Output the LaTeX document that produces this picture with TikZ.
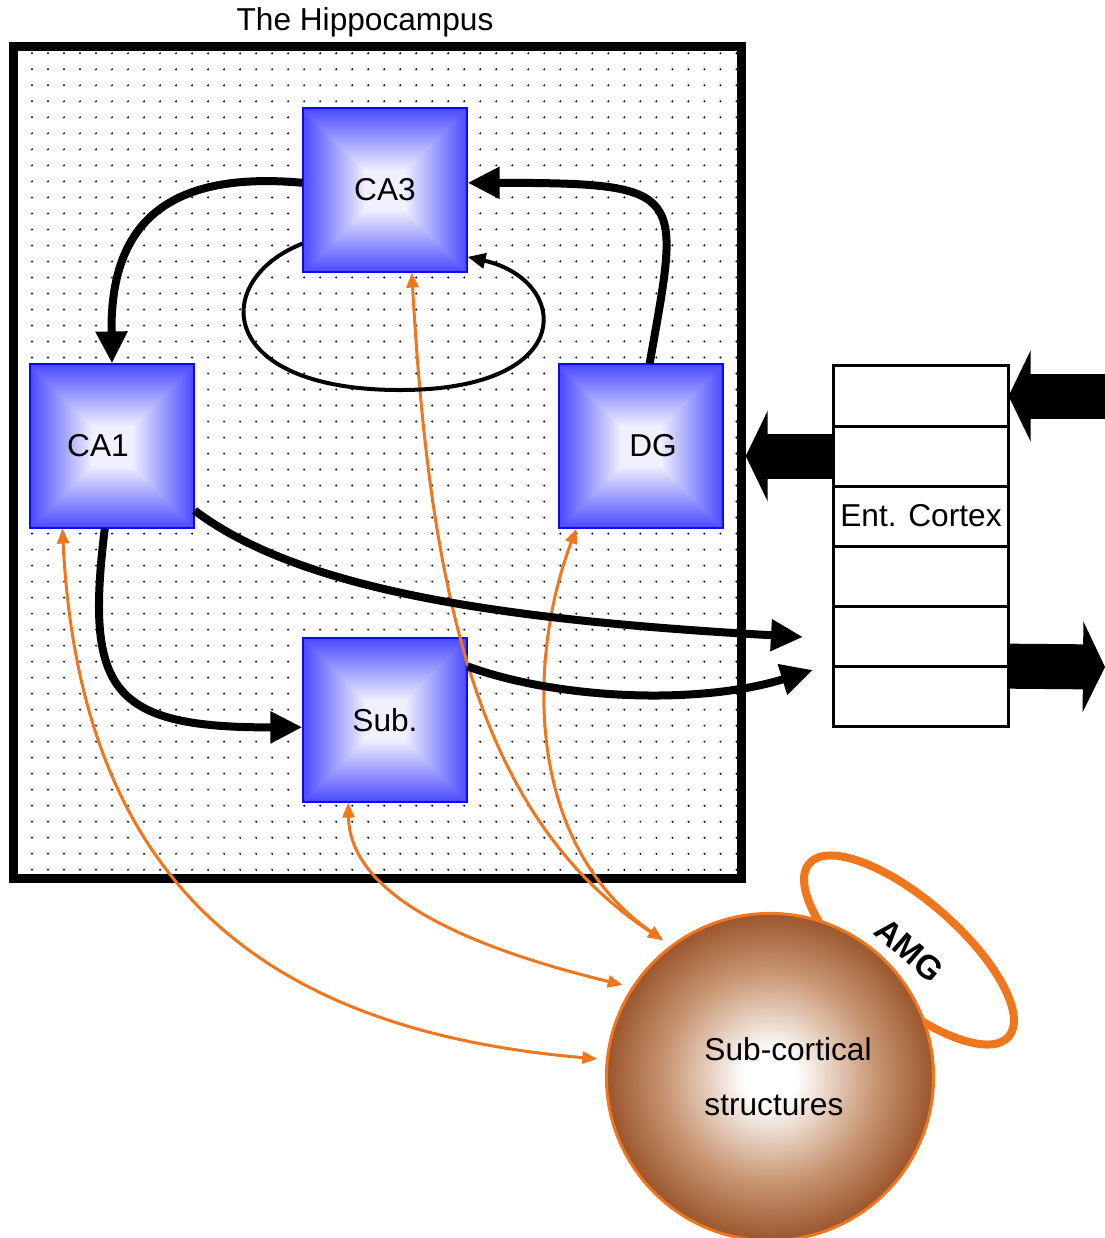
\documentclass[tikz,border=0pt]{standalone}
\usepackage{fontspec}
\setmainfont{Liberation Sans}
\usetikzlibrary{positioning,arrows.meta,shapes.geometric,patterns.meta}

\definecolor{boxblue}{RGB}{10,10,245}
\definecolor{orangeline}{RGB}{240,118,30}
\definecolor{ballmid}{RGB}{200,150,115}
\definecolor{balldeep}{RGB}{140,65,22}
\definecolor{balledge}{RGB}{105,42,8}

% blue rim fading to a white centre
\pgfdeclarefunctionalshading{pyramid}{\pgfpoint{-50bp}{-50bp}}{\pgfpoint{50bp}{50bp}}{}{
  abs exch abs 2 copy lt {exch} if pop
  50 div 0.12 sub 0.55 div
  dup 0 lt {pop 0} if dup 1 gt {pop 1} if
  1 exch sub 0.94 mul dup 1
}
\pgfdeclareradialshading{ball}{\pgfpoint{0bp}{0bp}}{color(0bp)=(white); color(4bp)=(white); color(16bp)=(ballmid); color(28bp)=(balldeep); color(50bp)=(balledge)}

\begin{document}
\begin{tikzpicture}[x=0.01cm, y=-0.01cm, font=\fontsize{9}{11}\selectfont,
    hbox/.style={draw=boxblue, line width=0.02cm, shade, shading=pyramid, minimum size=1.63cm, inner sep=0pt},
    ecbox/.style={draw, line width=0.03cm, minimum width=1.75cm, minimum height=0.6cm, inner sep=0pt, outer sep=0pt},
    blockarrow/.style={line width=0.45cm, -{Triangle[length=0.22cm,width=0.9cm]}},
    flow/.style={line width=0.08cm, -{Triangle[length=0.32cm,width=0.3cm]}},
    loopflow/.style={line width=0.04cm, -{Triangle[length=0.18cm,width=0.15cm]}},
    modulate/.style={draw=orangeline, line width=0.03cm, {Triangle[length=0.15cm,width=0.12cm]}-{Triangle[length=0.15cm,width=0.12cm]}}]
  \useasboundingbox (0,0) rectangle (1105,1238);

  % the hippocampus frame
  \node[draw, line width=0.09cm, pattern={Dots[distance=0.16cm, radius=0.011cm]}, minimum width=7.27cm, minimum height=8.31cm] (hipp) at (377.5,462.5) {};
  \node (title) at (365,22) {The Hippocampus};

  % entorhinal cortex layers
  \node[ecbox] (ec1) at (921,396) {};
  \node[ecbox, below=0pt of ec1] (ec2) {};
  \node[ecbox, below=0pt of ec2] (ec3) {Ent. Cortex};
  \node[ecbox, below=0pt of ec3] (ec4) {};
  \node[ecbox, below=0pt of ec4] (ec5) {};
  \node[ecbox, below=0pt of ec5] (ec6) {};

  \coordinate (inR) at (1105,396);
  \coordinate (outR) at (1105,667);
  \draw[blockarrow] (inR) -- (ec1.east);
  \draw[blockarrow] (ec2.west) -- (ec2.west -| hipp.east);
  \draw[blockarrow] (ec5.south east) -- (outR);

  % amygdala and sub-cortical ball
  \node[ellipse, draw=orangeline, line width=0.08cm, fill=white, minimum width=2.64cm, minimum height=1cm, inner sep=0pt, rotate=-41, font=\fontsize{9.5}{11}\selectfont\bfseries] (amg) at (909,950) {AMG};
  \node[circle, draw=orangeline, line width=0.03cm, shade, shading=ball, minimum size=3.27cm, outer sep=0.1cm,
        label={[align=left, xshift=0.18cm, font=\fontsize{9}{15.6}\selectfont]center:{Sub-cortical\\structures}}] (subc) at (770,1077) {};

  % hippocampal fields
  \node[hbox] (ca3) at (385,190) {CA3};
  \node[hbox, label={[xshift=-0.14cm]center:CA1}] (ca1) at (112,446) {};
  \node[hbox, label={[xshift=0.12cm]center:DG}] (dg) at (641,446) {};
  \node[hbox] (sub) at (385,720) {Sub.};

  % sub-cortical links
  \draw[modulate] (ca1.239) .. controls (80,880) and (260,1030) .. (subc.174);
  \draw[modulate] (sub.246) .. controls (350,900) and (480,950) .. (subc.148);
  \draw[modulate] (ca3.288) .. controls (430,600) and (480,820) .. (subc.128);
  \draw[modulate] (dg.232) .. controls (530,650) and (520,840) .. (subc.128);

  % trisynaptic loop
  \coordinate (tipA) at (803,637);
  \coordinate (tipB) at (813,670);
  \draw[flow] (ca3.175) .. controls (160,170) and (110,230) .. (ca1.north);
  \draw[flow] (dg.84) .. controls (680,190) and (690,183) .. (ca3.5);
  \draw[loopflow] (ca3.213) .. controls (210,280) and (215,390) .. (400,390) .. controls (580,390) and (570,280) .. (ca3.321);
  \draw[flow] (ca1.322) .. controls (300,590) and (500,620) .. (tipA);
  \draw[flow] (sub.33) .. controls (560,700) and (700,705) .. (tipB);
  \draw[flow] (ca1.265) .. controls (85,690) and (110,728) .. (sub.185);
\end{tikzpicture}
\end{document}
